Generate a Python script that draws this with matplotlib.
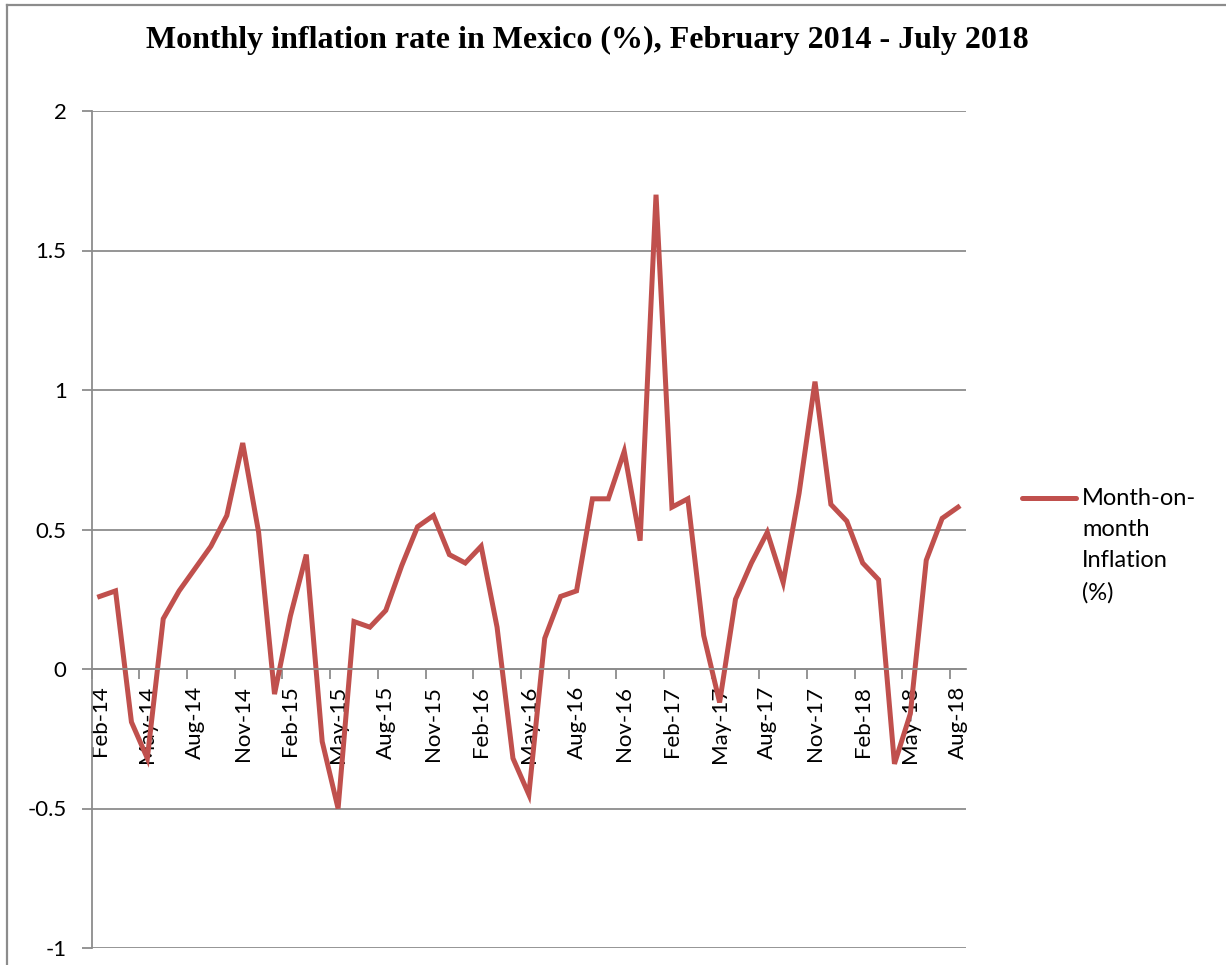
import matplotlib

matplotlib.use("Agg")
import matplotlib.pyplot as plt
from matplotlib.lines import Line2D

# month-on-month inflation (%), Feb-2014 .. Aug-2018
months = [
    "Feb-14", "Mar-14", "Apr-14", "May-14", "Jun-14", "Jul-14", "Aug-14", "Sep-14", "Oct-14", "Nov-14", "Dec-14",
    "Jan-15", "Feb-15", "Mar-15", "Apr-15", "May-15", "Jun-15", "Jul-15", "Aug-15", "Sep-15", "Oct-15", "Nov-15", "Dec-15",
    "Jan-16", "Feb-16", "Mar-16", "Apr-16", "May-16", "Jun-16", "Jul-16", "Aug-16", "Sep-16", "Oct-16", "Nov-16", "Dec-16",
    "Jan-17", "Feb-17", "Mar-17", "Apr-17", "May-17", "Jun-17", "Jul-17", "Aug-17", "Sep-17", "Oct-17", "Nov-17", "Dec-17",
    "Jan-18", "Feb-18", "Mar-18", "Apr-18", "May-18", "Jun-18", "Jul-18", "Aug-18",
]
inflation = [
    0.26, 0.28, -0.19, -0.32, 0.18, 0.28, 0.36, 0.44, 0.55, 0.81, 0.49,
    -0.09, 0.19, 0.41, -0.26, -0.50, 0.17, 0.15, 0.21, 0.37, 0.51, 0.55, 0.41,
    0.38, 0.44, 0.15, -0.32, -0.45, 0.11, 0.26, 0.28, 0.61, 0.61, 0.78, 0.46,
    1.70, 0.58, 0.61, 0.12, -0.12, 0.25, 0.38, 0.49, 0.31, 0.63, 1.03, 0.59,
    0.53, 0.38, 0.32, -0.34, -0.16, 0.39, 0.54, 0.58,
]
y_ticks = [-1, -0.5, 0, 0.5, 1, 1.5, 2]
y_tick_labels = ["-1", "-0.5", "0", "0.5", "1", "1.5", "2"]

title = "Monthly inflation rate in Mexico (%), February 2014 - July 2018"
series_name = "Month-on-\nmonth\nInflation\n(%)"

LINE_COLOR = "#C0504D"
GRID_COLOR = "#8C8C8C"
W, H = 1226, 965


def main() -> None:
    plt.rcParams["font.family"] = ["Lato", "DejaVu Sans"]

    fig = plt.figure(figsize=(W / 100, H / 100), dpi=100)

    # chart border (top + left visible in the crop)
    fig.add_artist(Line2D([7 / W, 1], [1 - 5 / H, 1 - 5 / H], color=GRID_COLOR, lw=1.6))
    fig.add_artist(Line2D([7 / W, 7 / W], [0, 1 - 5 / H], color=GRID_COLOR, lw=1.6))

    ax = fig.add_axes([91.7 / W, 17 / H, (966 - 91.7) / W, (948 - 111) / H])

    x = list(range(len(inflation)))
    ax.plot(x, inflation, color=LINE_COLOR, linewidth=3.6, solid_joinstyle="miter")

    ax.set_xlim(-0.5, len(inflation) - 0.5)
    ax.set_ylim(-1, 2)

    # y axis
    ax.set_yticks(y_ticks)
    ax.set_yticklabels(y_tick_labels, fontsize=16)
    ax.yaxis.grid(True, color=GRID_COLOR, linewidth=1.3)
    ax.set_axisbelow(True)
    ax.tick_params(axis="y", length=7, width=1.3, color=GRID_COLOR, pad=11)

    # category axis crossing at zero
    ax.spines["bottom"].set_position(("data", 0))
    for side in ("top", "right"):
        ax.spines[side].set_visible(False)
    for side in ("bottom", "left"):
        ax.spines[side].set_color(GRID_COLOR)
        ax.spines[side].set_linewidth(1.3)

    label_pos = x[::3]
    ax.set_xticks(label_pos)
    ax.set_xticklabels(months[::3], rotation=90, fontsize=16)
    ax.tick_params(axis="x", which="major", length=0, pad=12)
    ax.set_xticks([p - 0.5 for p in label_pos], minor=True)
    ax.tick_params(axis="x", which="minor", length=7, width=1.3, color=GRID_COLOR)

    fig.text(587 / W, 1 - 40 / H, title, ha="center", va="center",
             fontsize=23, fontweight="bold", family="Liberation Serif")

    # legend drawn by hand so the handle sits on the first text line
    fig.add_artist(Line2D([1022 / W, 1076 / W], [1 - 498 / H, 1 - 498 / H],
                          color=LINE_COLOR, lw=3.6, solid_capstyle="round"))
    fig.text(1082 / W, 1 - 488 / H, series_name, ha="left", va="top",
             fontsize=17, linespacing=1.6)

    fig.savefig("out.png", dpi=100)


if __name__ == "__main__":
    main()
